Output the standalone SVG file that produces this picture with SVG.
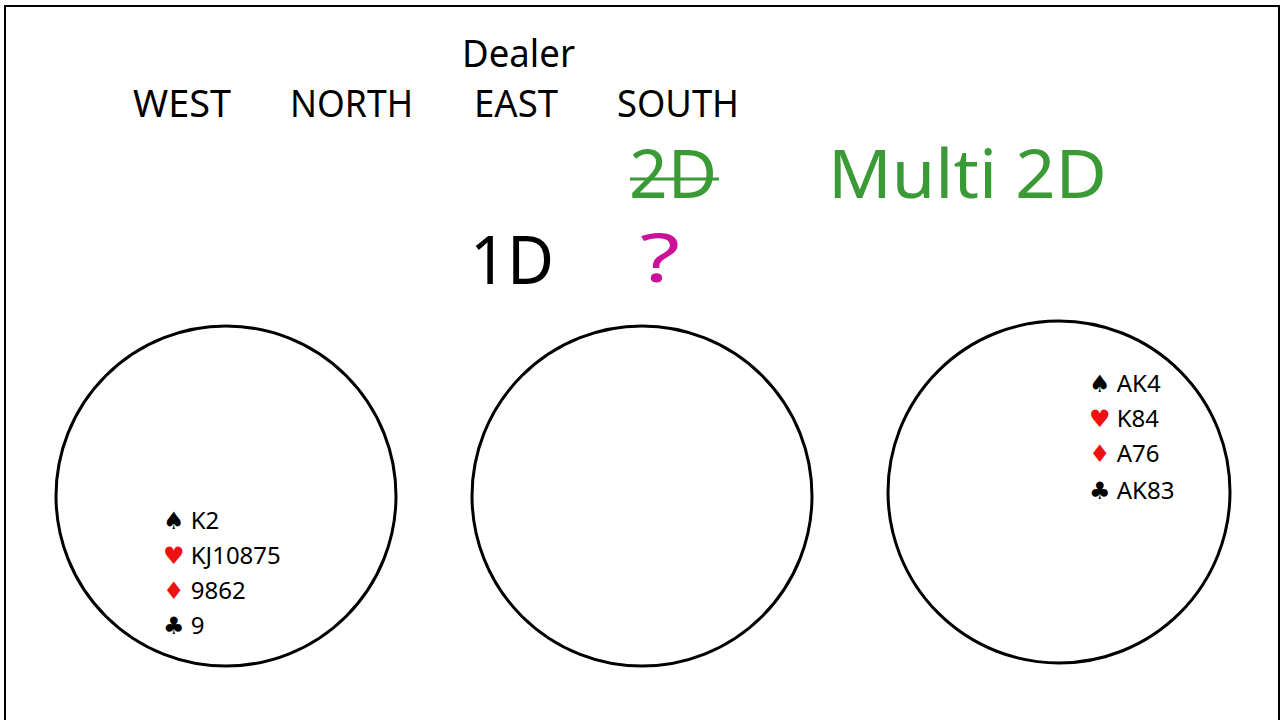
<svg xmlns="http://www.w3.org/2000/svg" width="1284" height="720" viewBox="0 0 1284 720">
<style>
text{font-family:"Noto Sans","DejaVu Sans",sans-serif;fill:#000}
.h{font-size:38px}
.big{font-size:68px}
.g{fill:#3a9a35}
.c{fill:none;stroke:#000;stroke-width:3}
.hand{font-size:24px}
.r{fill:#ee1111}
</style>
<rect x="5" y="6" width="1274" height="720" fill="#fff" stroke="#000" stroke-width="2"/>
<g id="labels">
<text class="h" x="462" y="67" textLength="113" lengthAdjust="spacingAndGlyphs">Dealer</text>
<text class="h" x="133" y="117" textLength="98" lengthAdjust="spacingAndGlyphs">WEST</text>
<text class="h" x="290" y="117" textLength="123" lengthAdjust="spacingAndGlyphs">NORTH</text>
<text class="h" x="474" y="117" textLength="84" lengthAdjust="spacingAndGlyphs">EAST</text>
<text class="h" x="617" y="117" textLength="122" lengthAdjust="spacingAndGlyphs">SOUTH</text>
</g>
<g id="bids">
<text class="big g" x="629" y="198" textLength="88" lengthAdjust="spacingAndGlyphs">2D</text>
<line x1="630" y1="179" x2="719" y2="179" stroke="#3a9a35" stroke-width="3"/>
<text class="big g" x="828" y="198" textLength="279" lengthAdjust="spacingAndGlyphs">Multi 2D</text>
<text class="big" x="470" y="284" textLength="84" lengthAdjust="spacingAndGlyphs">1D</text>
<text class="big" x="640" y="282" style="fill:#cc1199" textLength="40" lengthAdjust="spacingAndGlyphs">?</text>
</g>
<g id="west">
<circle class="c" cx="226" cy="496" r="170"/>
<text class="hand" x="163" y="529">♠ K2</text>
<text class="hand" x="163" y="564"><tspan class="r">♥</tspan> KJ10875</text>
<text class="hand" x="163" y="599"><tspan class="r">♦</tspan> 9862</text>
<text class="hand" x="163" y="634">♣ 9</text>
</g>
<g id="north">
<circle class="c" cx="642" cy="496" r="170"/>
</g>
<g id="east">
<circle class="c" cx="1059" cy="492" r="171"/>
<text class="hand" x="1089" y="392">♠ AK4</text>
<text class="hand" x="1089" y="427"><tspan class="r">♥</tspan> K84</text>
<text class="hand" x="1089" y="462"><tspan class="r">♦</tspan> A76</text>
<text class="hand" x="1089" y="499">♣ AK83</text>
</g>
<g id="connectors"></g>
</svg>
